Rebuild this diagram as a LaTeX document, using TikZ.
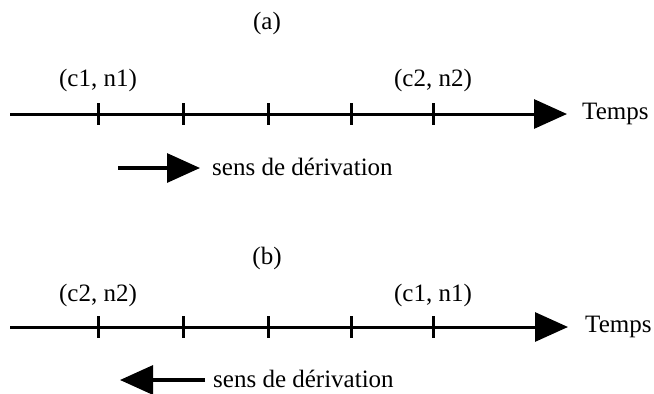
\documentclass[tikz,border=0pt]{standalone}
\usepackage{fontspec}
\setmainfont{Liberation Serif}
\usetikzlibrary{arrows.meta}
\begin{document}
\begin{tikzpicture}[x=1pt,y=-1pt,
  font=\fontsize{25}{30}\selectfont,
  axisline/.style={line width=3pt, -{Triangle[length=33pt,width=29pt]}},
  dirline/.style={line width=3.2pt, -{Triangle[length=33pt,width=29pt]}},
  tickmark/.style={line width=3pt},
  lbl/.style={inner sep=0pt}]
\useasboundingbox (0,0) rectangle (654,394);

% ---------- (a) ----------
\node[lbl] (ta) at (267,23) {(a)};
\coordinate (a0) at (10,114);
\coordinate (a1) at (567,114);
\draw[axisline] (a0) -- (a1);
\node[lbl,anchor=west] (tempsa) at (582,114) {Temps};
\foreach \i/\x in {1/98,2/183,3/268,4/351,5/433}{
  \coordinate (at\i) at (\x,114);
  \draw[tickmark] ([yshift=11pt]at\i) -- ([yshift=-11pt]at\i);
}
\node[lbl] (la1) at (98,80) {(c1, n1)};
\node[lbl] (la2) at (433,80) {(c2, n2)};
\coordinate (sa0) at (118,168);
\coordinate (sa1) at (200,168);
\draw[dirline] (sa0) -- (sa1);
\node[lbl,anchor=west] (sensa) at (212,167) {sens de dérivation};

% ---------- (b) ----------
\node[lbl] (tb) at (267,258) {(b)};
\coordinate (b0) at (10,327);
\coordinate (b1) at (568,327);
\draw[axisline] (b0) -- (b1);
\node[lbl,anchor=west] (tempsb) at (585,327) {Temps};
\foreach \i/\x in {1/98,2/183,3/268,4/351,5/433}{
  \coordinate (bt\i) at (\x,327);
  \draw[tickmark] ([yshift=11pt]bt\i) -- ([yshift=-11pt]bt\i);
}
\node[lbl] (lb1) at (98,295) {(c2, n2)};
\node[lbl] (lb2) at (433,295) {(c1, n1)};
\coordinate (sb0) at (205,380);
\coordinate (sb1) at (120,380);
\draw[dirline] (sb0) -- (sb1);
\node[lbl,anchor=west] (sensb) at (213,379) {sens de dérivation};
\end{tikzpicture}
\end{document}
